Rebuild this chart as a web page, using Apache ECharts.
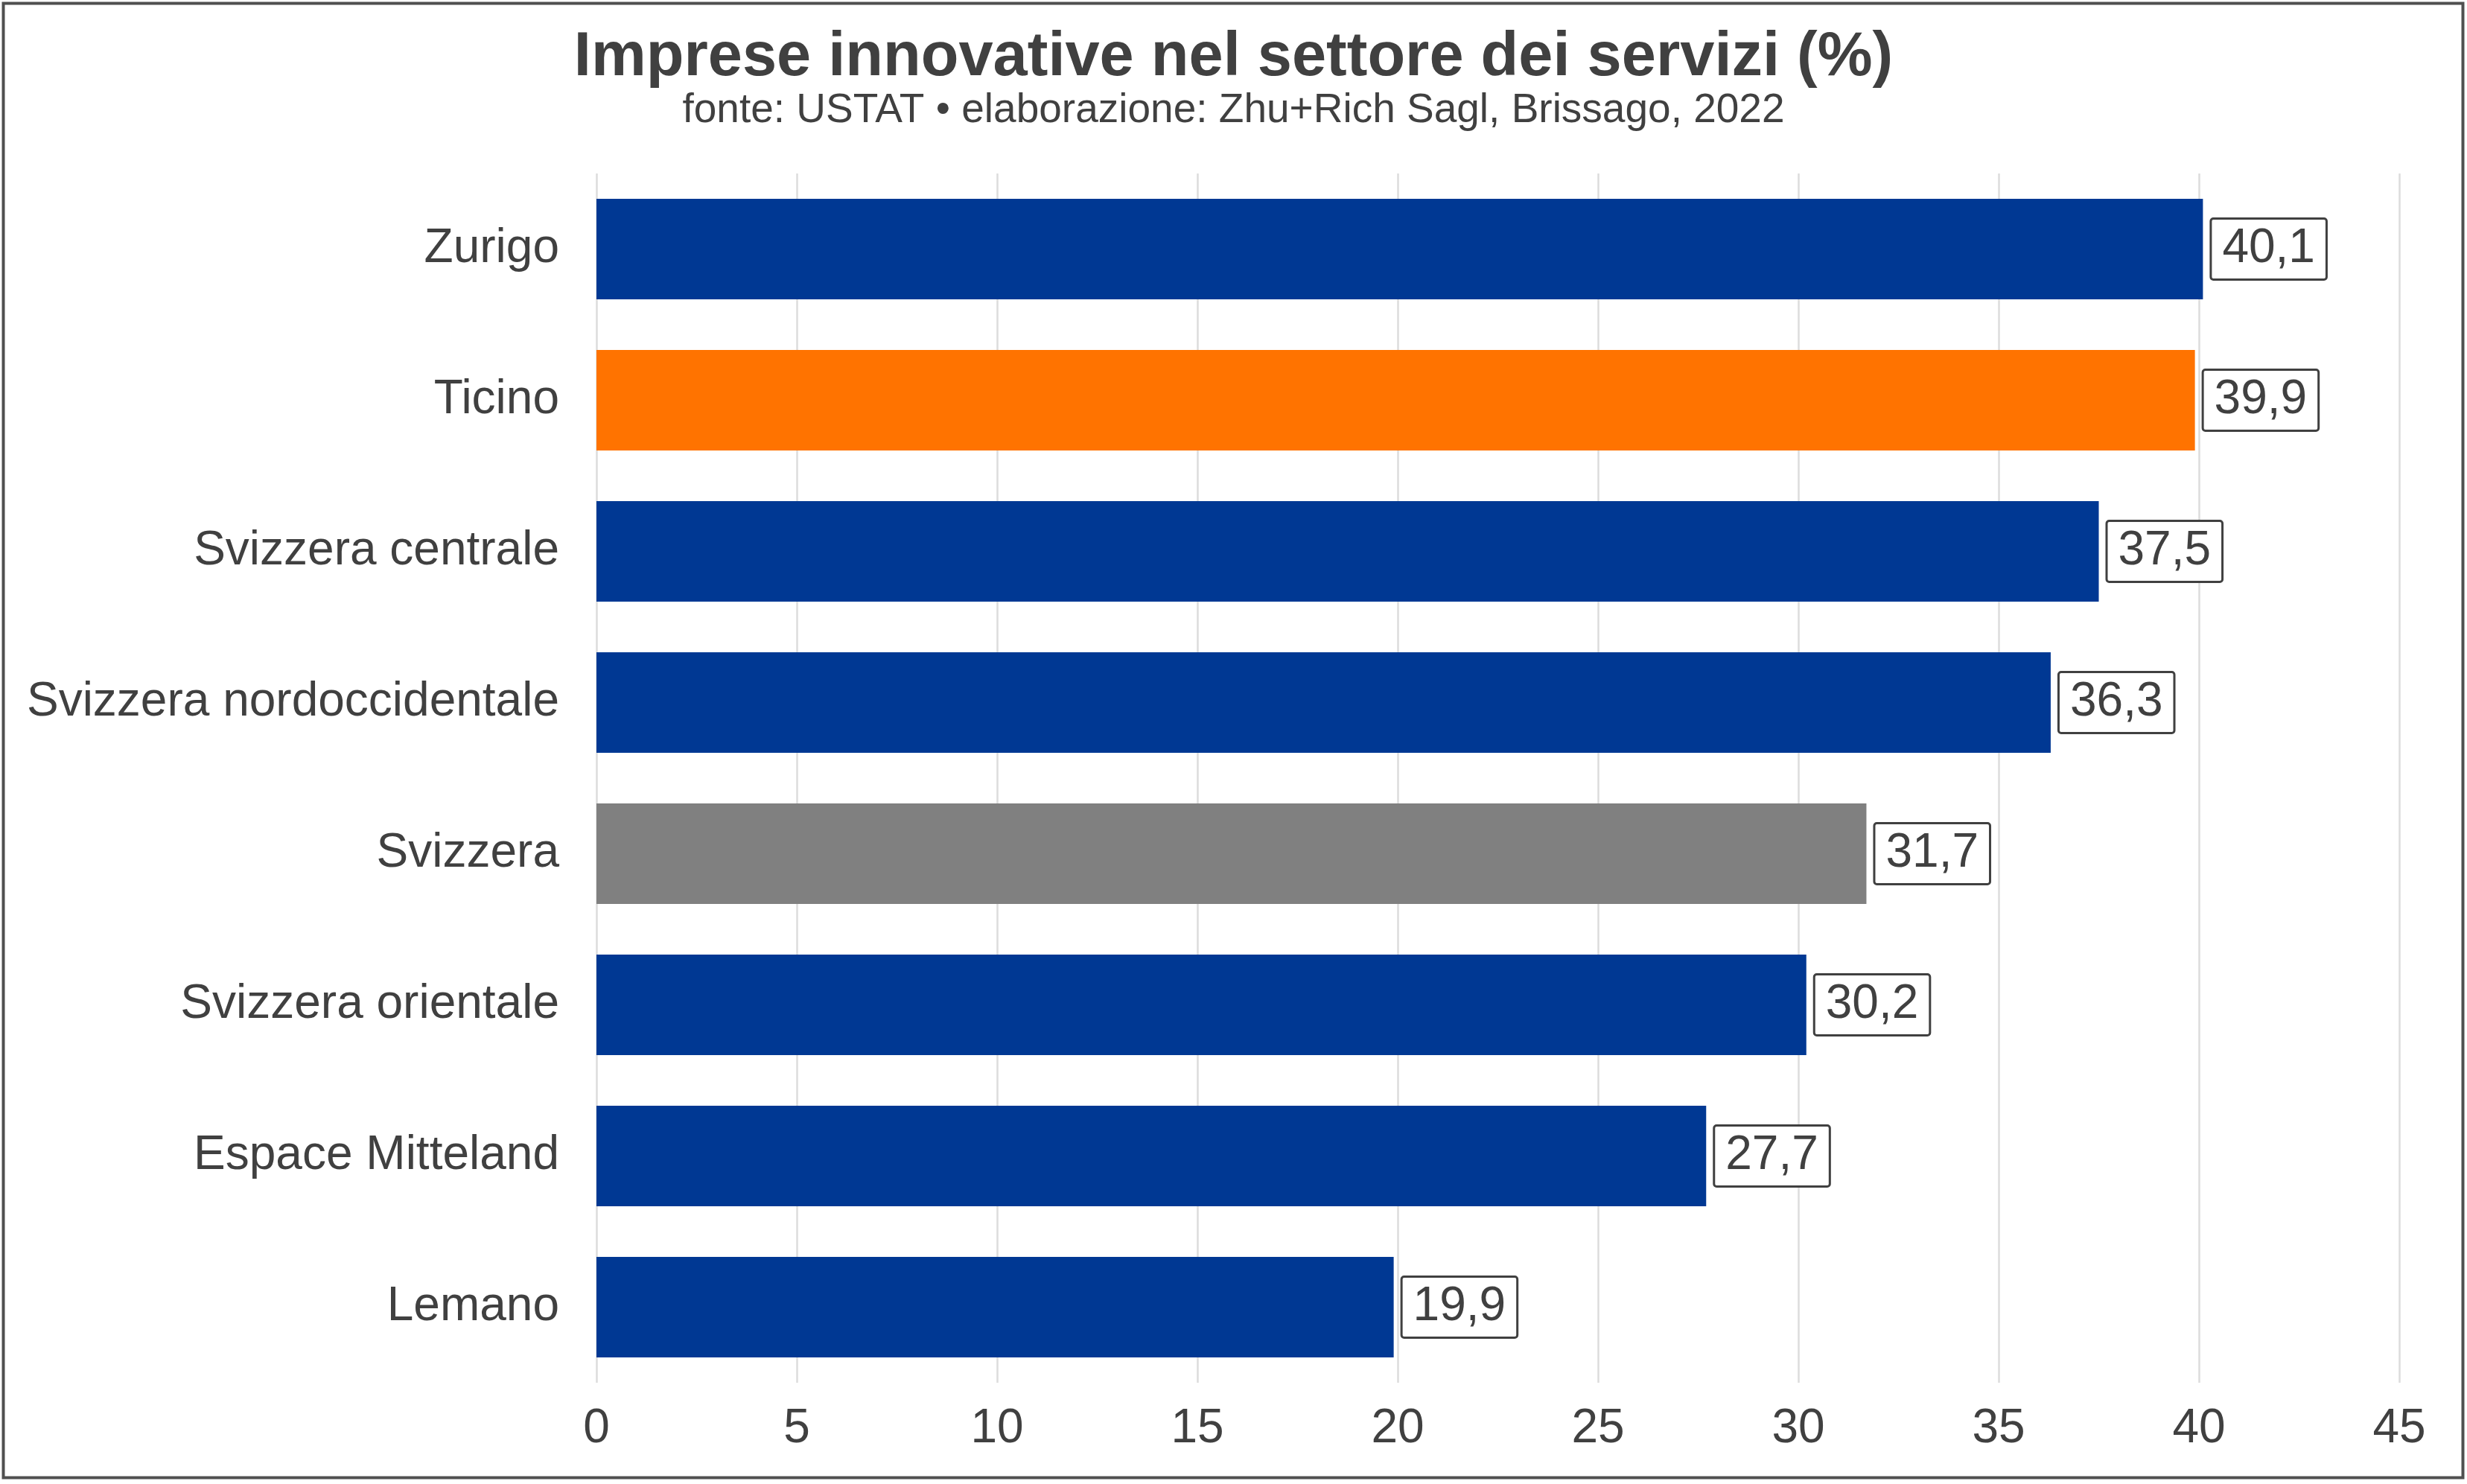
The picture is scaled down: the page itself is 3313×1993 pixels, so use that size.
<!DOCTYPE html>
<html>
<head>
<meta charset="utf-8">
<script src="https://cdn.jsdelivr.net/npm/echarts@6/dist/echarts.min.js"></script>
<style>
html,body{margin:0;padding:0;background:#fff;}
#chart{width:3313px;height:1993px;}
</style>
</head>
<body>
<div id="chart"></div>
<script>
const categories = ["Zurigo","Ticino","Svizzera centrale","Svizzera nordoccidentale","Svizzera","Svizzera orientale","Espace Mitteland","Lemano"];
const values = [40.1, 39.9, 37.5, 36.3, 31.7, 30.2, 27.7, 19.9];
const barColors = ["#003893","#FF7300","#003893","#003893","#808080","#003893","#003893","#003893"];
const xTicks = [0,5,10,15,20,25,30,35,40,45];

const FONT = '"Liberation Sans", Arial, Helvetica, sans-serif';
const TXT = '#404040';

const chart = echarts.init(document.getElementById('chart'), null, {renderer:'canvas'});
chart.setOption({
  backgroundColor:'#ffffff',
  animation:false,
  title:[
    {text:'Imprese innovative nel settore dei servizi (%)', left:'center', top:32,
     textStyle:{fontFamily:FONT, fontSize:83, fontWeight:'bold', color:TXT}},
    {text:'fonte: USTAT • elaborazione: Zhu+Rich Sagl, Brissago, 2022', left:'center', top:116,
     textStyle:{fontFamily:FONT, fontSize:55, fontWeight:'normal', color:TXT}}
  ],
  grid:{left:801, right:91, top:233, bottom:136, containLabel:false},
  xAxis:{
    type:'value', min:0, max:45, interval:5,
    axisLine:{show:false}, axisTick:{show:false},
    splitLine:{show:true, lineStyle:{color:'#dcdcdc', width:2.5}},
    axisLabel:{fontFamily:FONT, fontSize:64, color:TXT, margin:30,
      formatter:function(v){ return xTicks.indexOf(v) >= 0 ? String(v) : ''; }}
  },
  yAxis:{
    type:'category', data:categories, inverse:true,
    axisLine:{show:false}, axisTick:{show:false}, splitLine:{show:false},
    axisLabel:{fontFamily:FONT, fontSize:64, color:TXT, margin:50}
  },
  series:[{
    type:'bar',
    barWidth:135,
    data:values.map((v,i)=>({value:v, itemStyle:{color:barColors[i]}})),
    label:{
      show:true, position:'right', distance:12,
      fontFamily:FONT, fontSize:64, color:TXT, lineHeight:64,
      backgroundColor:'#ffffff', borderColor:'#404040', borderWidth:3, borderRadius:2,
      padding:[8,14,7,14],
      formatter:function(p){ return p.value.toFixed(1).replace('.', ','); }
    }
  }],
  graphic:[{
    type:'rect', silent:true, z:100,
    shape:{x:4.5, y:4.5, width:3303, height:1980},
    style:{fill:'none', stroke:'#505050', lineWidth:4}
  }]
});
</script>
</body>
</html>
